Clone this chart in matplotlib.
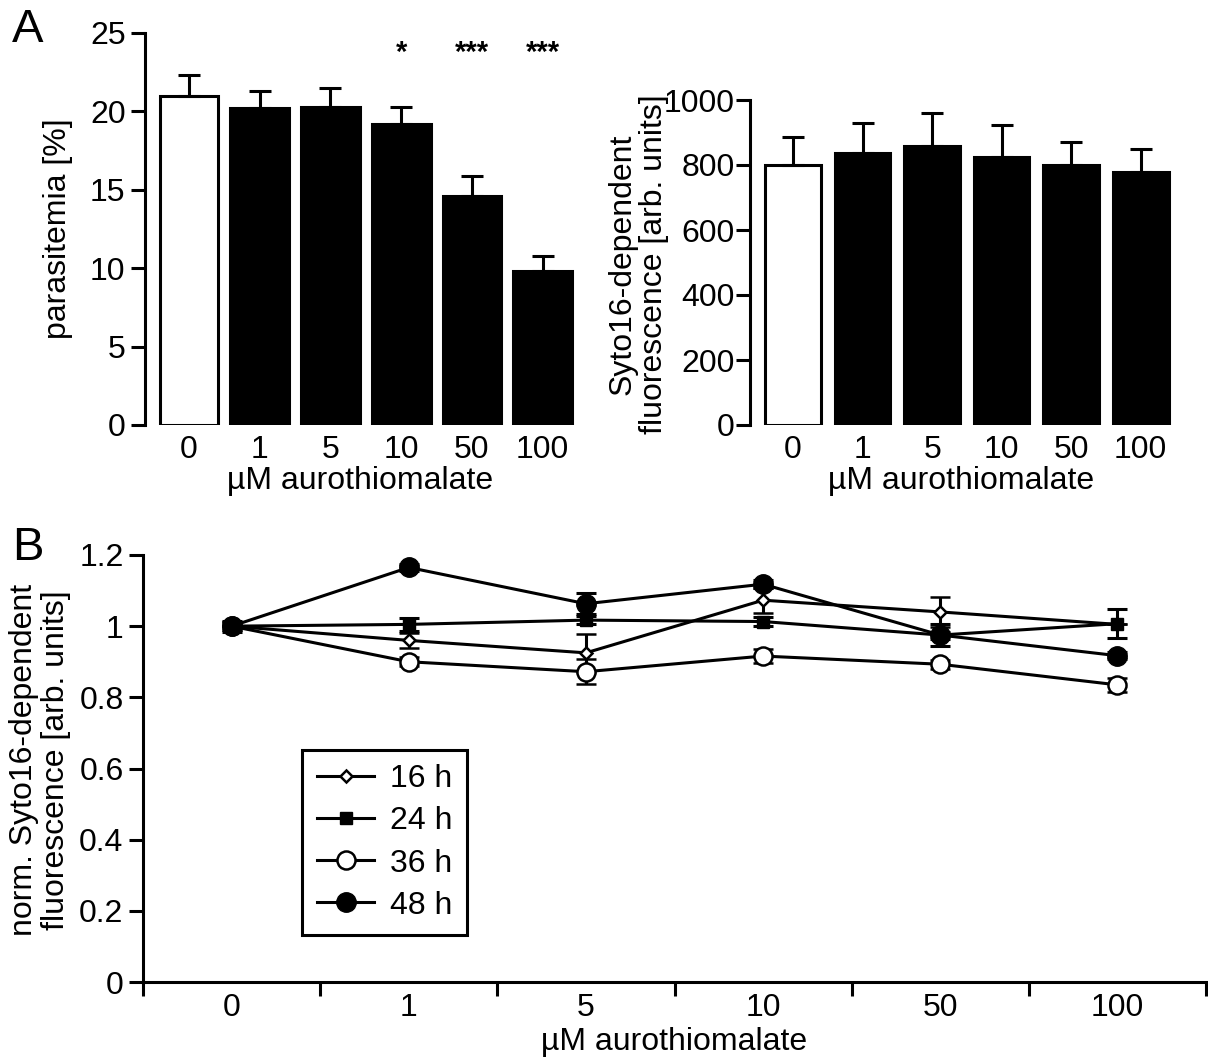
import matplotlib
matplotlib.use("Agg")
import matplotlib.pyplot as plt
from matplotlib.lines import Line2D
import numpy as np

plt.rcParams['font.family'] = ['Liberation Sans', 'DejaVu Sans']

# ---------------- data ----------------
conc_labels = ["0", "1", "5", "10", "50", "100"]

parasitemia = [21.0, 20.2, 20.3, 19.2, 14.6, 9.8]
parasitemia_err = [1.3, 1.1, 1.2, 1.1, 1.3, 1.0]
significance = ["", "", "", "*", "***", "***"]

syto_fluor = [800, 838, 858, 826, 800, 778]
syto_fluor_err = [86, 92, 102, 96, 72, 72]

series_names = ["16 h", "24 h", "36 h", "48 h"]
norm_16h = [1.0, 0.96, 0.925, 1.073, 1.04, 1.005]
norm_16h_err = [0.0, 0.02, 0.054, 0.035, 0.043, 0.0]
norm_24h = [1.0, 1.005, 1.017, 1.013, 0.975, 1.007]
norm_24h_err = [0.015, 0.018, 0.012, 0.012, 0.03, 0.04]
norm_36h = [1.0, 0.90, 0.872, 0.916, 0.893, 0.835]
norm_36h_err = [0.012, 0.012, 0.035, 0.02, 0.012, 0.02]
norm_48h = [1.0, 1.165, 1.063, 1.118, 0.975, 0.917]
norm_48h_err = [0.012, 0.01, 0.03, 0.012, 0.01, 0.01]

W, H = 1208, 1058
fig = plt.figure(figsize=(W / 100, H / 100), dpi=100)

FS = 23
LW = 2.2

def style_bar_axis(ax):
    for s in ["top", "right", "bottom"]:
        ax.spines[s].set_visible(False)
    ax.spines["left"].set_linewidth(LW)
    ax.tick_params(axis="y", direction="out", length=10, width=LW, labelsize=FS, pad=4)
    ax.tick_params(axis="x", length=0, labelsize=FS, pad=7)

x = np.arange(len(conc_labels))
face = ["white"] + ["black"] * (len(conc_labels) - 1)

# ---------------- Panel A left ----------------
ax1 = fig.add_axes([145 / W, 1 - 425 / H, (576 - 145) / W, (425 - 33) / H])
ax1.bar(x, parasitemia, width=0.83, color=face, edgecolor="black", linewidth=LW,
        yerr=[np.zeros(len(x)), parasitemia_err],
        error_kw=dict(ecolor="black", elinewidth=LW, capsize=8, capthick=LW))
ax1.set_ylim(0, 25)
ax1.set_xlim(-0.62, 5.47)
ax1.set_yticks([0, 5, 10, 15, 20, 25])
ax1.set_xticks(x)
ax1.set_xticklabels(conc_labels)
ax1.set_ylabel("parasitemia [%]", fontsize=FS, labelpad=12)
ax1.set_xlabel("µM aurothiomalate", fontsize=FS, labelpad=1)
style_bar_axis(ax1)
for xi, s in zip(x, significance):
    if s:
        ax1.text(xi, 23.2, s, ha="center", va="baseline", fontsize=21, fontweight="bold")

# ---------------- Panel A right ----------------
ax2 = fig.add_axes([750 / W, 1 - 425 / H, (1172 - 750) / W, (425 - 100) / H])
ax2.bar(x, syto_fluor, width=0.8, color=face, edgecolor="black", linewidth=LW,
        yerr=[np.zeros(len(x)), syto_fluor_err],
        error_kw=dict(ecolor="black", elinewidth=LW, capsize=8, capthick=LW))
ax2.set_ylim(0, 1000)
ax2.set_xlim(-0.62, 5.45)
ax2.set_yticks([0, 200, 400, 600, 800, 1000])
ax2.set_xticks(x)
ax2.set_xticklabels(conc_labels)
ax2.set_xlabel("µM aurothiomalate", fontsize=FS, labelpad=1)
style_bar_axis(ax2)
ax2.tick_params(axis="y", pad=1)
fig.text(623 / W, 1 - 264 / H, "Syto16-dependent", rotation=90, fontsize=FS,
         ha="center", va="center")
fig.text(654 / W, 1 - 264 / H, "fluorescence [arb. units]", rotation=90, fontsize=FS,
         ha="center", va="center")

# ---------------- Panel B ----------------
ax3 = fig.add_axes([143 / W, 1 - 982 / H, (1206 - 143) / W, (982 - 555) / H])
series = [
    (norm_16h, norm_16h_err, dict(marker="D", markersize=6, markerfacecolor="white",
                                  markeredgecolor="black", markeredgewidth=1.8)),
    (norm_24h, norm_24h_err, dict(marker="s", markersize=9, markerfacecolor="black",
                                  markeredgecolor="black")),
    (norm_36h, norm_36h_err, dict(marker="o", markersize=13, markerfacecolor="white",
                                  markeredgecolor="black", markeredgewidth=1.8)),
    (norm_48h, norm_48h_err, dict(marker="o", markersize=14, markerfacecolor="black",
                                  markeredgecolor="black")),
]
handles = []
for (vals, errs, mk), name in zip(series, series_names):
    ax3.errorbar(x, vals, yerr=errs, color="black", linewidth=LW, elinewidth=LW,
                 capsize=7, capthick=LW, clip_on=False, **mk)
    handles.append(Line2D([0], [0], color="black", linewidth=LW, label=name, **mk))

ax3.set_xlim(-0.5, 5.5)
ax3.set_ylim(0, 1.2)
ax3.set_yticks([0, 0.2, 0.4, 0.6, 0.8, 1.0, 1.2])
ax3.set_yticklabels(["0", "0.2", "0.4", "0.6", "0.8", "1", "1.2"])
ax3.set_xticks(np.arange(-0.5, 6.0, 1.0))
ax3.set_xticklabels([])
ax3.set_xticks(x, minor=True)
ax3.set_xticklabels(conc_labels, minor=True)
for s in ["top", "right"]:
    ax3.spines[s].set_visible(False)
ax3.spines["left"].set_linewidth(LW)
ax3.spines["bottom"].set_linewidth(LW)
ax3.tick_params(axis="y", direction="out", length=10, width=LW, labelsize=FS, pad=4)
ax3.tick_params(axis="x", which="major", direction="out", length=10, width=LW)
ax3.tick_params(axis="x", which="minor", length=0, labelsize=FS, pad=8)
ax3.set_xlabel("µM aurothiomalate", fontsize=FS, labelpad=3)
fig.text(24 / W, 1 - 760 / H, "norm. Syto16-dependent", rotation=90, fontsize=FS,
         ha="center", va="center")
fig.text(56 / W, 1 - 760 / H, "fluorescence [arb. units]", rotation=90, fontsize=FS,
         ha="center", va="center")

leg = ax3.legend(handles=handles, loc="lower left", bbox_to_anchor=(0.15, 0.11),
                 borderaxespad=0, fontsize=FS, frameon=True, fancybox=False,
                 framealpha=1, handlelength=1.8, handletextpad=0.5, labelspacing=0.38,
                 borderpad=0.45, edgecolor="black")
leg.get_frame().set_linewidth(LW)

# panel letters
fig.text(12 / W, 1 - 8 / H, "A", fontsize=34, ha="left", va="top")
fig.text(12 / W, 1 - 526 / H, "B", fontsize=34, ha="left", va="top")

fig.savefig("out.png", dpi=100)
